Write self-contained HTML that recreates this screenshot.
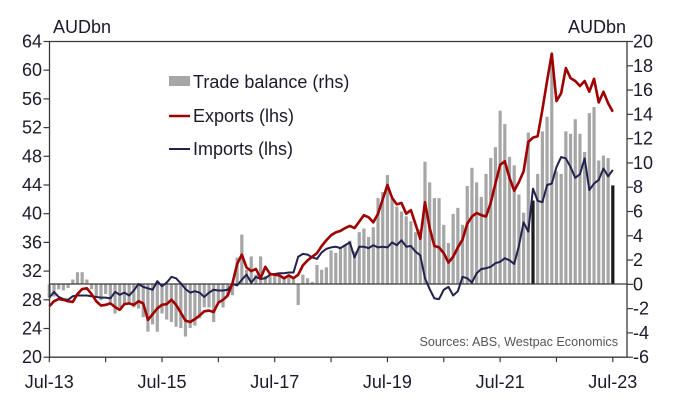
<!DOCTYPE html>
<html><head><meta charset="utf-8">
<style>
html,body{margin:0;padding:0;background:#fff;}
svg{display:block;font-family:"Liberation Sans",Arial,sans-serif;}
</style></head>
<body>
<svg id="chart" width="677" height="405" viewBox="0 0 677 405" xmlns="http://www.w3.org/2000/svg">
<g id="bars"></g>
<line x1="49.5" y1="284" x2="627" y2="284" stroke="#3a3a3a" stroke-width="1.2"/>
<g id="lines"></g>
<g id="axes"></g>
<text x="53" y="33" font-size="18" fill="#1a1a2a">AUDbn</text>
<text x="626" y="33" font-size="18" fill="#1a1a2a" text-anchor="end">AUDbn</text>
<g>
<rect x="169" y="76" width="21" height="10" fill="#a6a6a6"/>
<text x="193" y="88" font-size="18" fill="#1a1a2a">Trade balance (rhs)</text>
<line x1="169" y1="116" x2="190" y2="116" stroke="#a00000" stroke-width="2.5"/>
<text x="193" y="122" font-size="18" fill="#1a1a2a">Exports (lhs)</text>
<line x1="169" y1="149" x2="190" y2="149" stroke="#22224f" stroke-width="2"/>
<text x="193" y="155" font-size="18" fill="#1a1a2a">Imports (lhs)</text>
</g>
<text x="618" y="346" font-size="12.6" fill="#555" text-anchor="end">Sources: ABS, Westpac Economics</text>
</svg>
<script>
const exportsData = [27.1,27.8,28.1,28.0,27.8,27.7,28.8,29.5,29.6,28.8,27.8,27.2,27.3,27.5,27.0,26.6,27.4,27.5,27.3,27.8,27.5,25.2,26.0,26.8,27.3,27.4,28.0,27.3,26.2,25.1,24.9,25.3,25.8,26.4,26.5,26.3,27.6,28.0,28.6,30.3,33.0,34.3,32.5,32.0,32.3,31.0,32.6,31.6,31.5,31.4,31.0,31.4,31.0,31.5,32.8,33.5,34.0,34.5,35.5,36.3,37.0,37.4,37.6,38.0,38.3,38.0,38.9,39.8,39.5,38.8,40.0,42.0,44.0,42.2,41.3,41.5,40.0,40.5,38.5,36.5,41.6,38.0,35.5,35.3,34.5,33.2,34.0,35.3,36.4,38.6,39.6,40.1,39.8,39.6,41.5,44.2,46.8,47.3,45.0,43.2,44.4,45.9,50.0,50.6,50.8,54.5,58.5,62.3,55.7,56.8,60.3,58.9,58.5,57.8,58.5,57.0,58.8,55.5,57.0,55.4,54.2];
const importsData = [28.3,29.1,28.4,28.1,28.0,28.5,28.6,28.6,28.6,28.5,28.4,28.3,28.3,28.2,29.1,28.7,29.0,28.6,29.3,30.2,29.8,29.6,29.4,30.6,29.9,30.4,31.2,31.0,30.3,29.5,29.0,29.2,29.0,28.4,29.0,29.4,29.3,29.3,29.4,30.2,30.0,30.8,31.5,30.4,31.2,30.9,31.0,31.5,31.6,31.7,31.7,31.8,31.8,34.0,34.4,34.3,33.9,33.7,34.6,35.1,35.3,35.4,35.2,35.6,36.0,33.9,35.4,35.4,35.2,35.6,35.3,35.4,35.3,36.0,35.6,36.3,35.4,35.5,34.7,34.2,31.0,29.5,28.2,28.1,29.4,29.8,28.6,29.2,31.2,31.0,30.4,31.7,32.3,32.4,32.6,33.1,33.3,33.8,33.5,33.0,35.5,38.8,37.5,43.5,41.8,41.6,44.0,44.2,46.5,47.9,47.7,46.5,45.0,45.5,47.7,43.3,44.2,44.7,46.3,45.2,46.1];
const balanceData = [-1.1,-1.0,-0.4,-0.5,-0.3,0.4,1.0,1.0,0.4,-0.4,-1.0,-1.3,-0.8,-1.5,-2.4,-1.9,-1.7,-1.5,-1.9,-2.0,-2.7,-3.9,-3.3,-3.9,-2.4,-2.9,-3.1,-3.5,-3.6,-4.3,-3.6,-3.4,-2.8,-1.9,-1.9,-3.1,-1.5,-1.9,-1.0,-0.9,2.2,4.1,1.2,2.3,0.8,2.3,0.7,0.8,0.8,0.8,0.6,0.6,0.4,-1.7,0.8,0.5,0.2,1.6,1.2,1.4,2.8,2.6,3.1,3.3,3.6,2.7,4.3,4.6,3.9,4.7,7.1,7.6,9.0,7.1,6.4,6.0,5.6,5.2,4.3,4.5,10.1,8.4,7.1,7.1,4.9,3.4,5.8,6.3,4.9,8.1,9.6,8.4,7.2,9.1,10.4,11.3,14.3,13.2,10.5,9.8,7.4,5.9,12.5,6.9,9.1,12.6,13.8,19.0,9.3,9.1,12.6,12.4,13.6,12.4,10.9,14.1,14.6,10.2,10.6,10.4,8.15];
const highlightIdx = [103,120];
const leftTicks = [20,24,28,32,36,40,44,48,52,56,60,64];
const rightTicks = [-6,-4,-2,0,2,4,6,8,10,12,14,16,18,20];
const xTickLabels = ["Jul-13","Jul-15","Jul-17","Jul-19","Jul-21","Jul-23"];

const NS="http://www.w3.org/2000/svg";
const X0=49.3, DX=4.696, L=49.5, R=627, T=41.5, B=357.2;
function xPos(i){return X0+i*DX;}
function yL(v){return T+(64-v)*(B-T)/44;}
function yR(v){return T+(20-v)*(B-T)/26;}
function mk(tag,attrs,parent){const e=document.createElementNS(NS,tag);for(const k in attrs)e.setAttribute(k,attrs[k]);parent.appendChild(e);return e;}

const gb=document.getElementById('bars');
balanceData.forEach((v,i)=>{
  const y0=yR(0), y1=yR(v);
  const dark=highlightIdx.includes(i);
  const r=mk('rect',{x:xPos(i)-1.6,y:Math.min(y0,y1),width:3.2,height:Math.abs(y1-y0),fill:dark?'#1a1a1a':'#a6a6a6'},gb);
  
  
});
const gl=document.getElementById('lines');
function line(data,color,w,name){
  const d=data.map((v,i)=>(i?'L':'M')+xPos(i).toFixed(2)+' '+yL(v).toFixed(2)).join(' ');
  const p=mk('path',{d:d,fill:'none',stroke:color,'stroke-width':w,'stroke-linejoin':'round'},gl);
  
  
}
line(importsData,'#22224f',2,'imports-line');
line(exportsData,'#a00000',2.6,'exports-line');

const ga=document.getElementById('axes');
const frame=mk('path',{d:`M${L} ${B} L${L} ${T} L${R} ${T} L${R} ${B} L${L} ${B}`,fill:'none',stroke:'#3a3a3a','stroke-width':1.3},ga);


leftTicks.forEach(v=>{
  mk('line',{x1:L-6,x2:L,y1:yL(v),y2:yL(v),stroke:'#3a3a3a','stroke-width':1.2},ga);
  const t=mk('text',{x:42,y:yL(v)+6,'font-size':18,fill:'#1a1a2a','text-anchor':'end'},ga);
  t.textContent=v;
  
  
});
rightTicks.forEach(v=>{
  mk('line',{x1:R,x2:R+6,y1:yR(v),y2:yR(v),stroke:'#3a3a3a','stroke-width':1.2},ga);
  const t=mk('text',{x:633,y:yR(v)+6,'font-size':18,fill:'#1a1a2a'},ga);
  t.textContent=v;
  
  
});
for(let k=0;k<=10;k++){
  const x=xPos(k*12);
  mk('line',{x1:x,x2:x,y1:B,y2:B+5,stroke:'#3a3a3a','stroke-width':1.2},ga);
}
xTickLabels.forEach((s,k)=>{
  const t=mk('text',{x:xPos(k*24),y:388,'font-size':18,fill:'#1a1a2a','text-anchor':'middle'},ga);
  t.textContent=s;
  
  
});
</script>
</body></html>
